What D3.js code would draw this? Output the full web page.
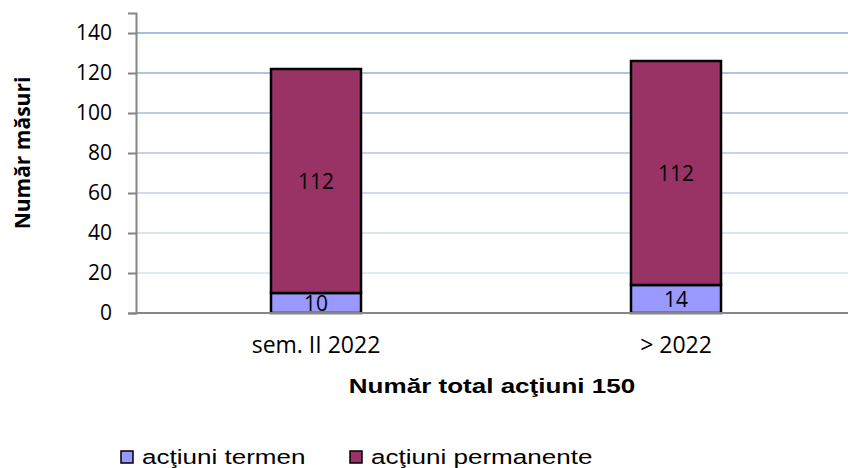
<!DOCTYPE html>
<html>
<head>
<meta charset="utf-8">
<script src="https://cdn.jsdelivr.net/npm/d3@7"></script>
<style>
  body { margin: 0; background: #fff; }
  svg { display: block; }
</style>
</head>
<body>
<div id="chart"></div>
<script>
// data
const categories = ['sem. II 2022', '> 2022'];
const seriesNames = ['acţiuni termen', 'acţiuni permanente'];
const termenValues = [10, 14];
const permanenteValues = [112, 112];
const yTicks = [0, 20, 40, 60, 80, 100, 120, 140];
const xTitle = 'Număr total acţiuni 150';
const yTitle = 'Număr măsuri';

const width = 848, height = 468;
const margin = { top: 13, right: 0, bottom: 155, left: 136 };
const colors = ['#9999ff', '#993366'];
const arialStretch = 1.24; // the Arial texts look wider than normal in the original

const svg = d3.select('#chart').append('svg')
  .attr('width', width)
  .attr('height', height);

const x = d3.scaleBand()
  .domain(categories)
  .range([margin.left, margin.left + 720])
  .paddingInner(0.75)
  .paddingOuter(0.375);

const y = d3.scaleLinear()
  .domain([0, 150])
  .range([height - margin.bottom, margin.top]);

// gridlines fade from top to bottom
const gridColor = d3.scaleLinear().domain([140, 20]).range(['#a7bde5', '#e2e9f6']);
svg.append('g')
  .selectAll('line')
  .data(yTicks.filter(d => d > 0))
  .join('line')
  .attr('x1', margin.left)
  .attr('x2', width)
  .attr('y1', d => y(d))
  .attr('y2', d => y(d))
  .attr('stroke', d => gridColor(d))
  .attr('stroke-width', 2);

// stacked bars
const rows = categories.map((c, i) => ({ cat: c, termen: termenValues[i], permanente: permanenteValues[i] }));
const stack = d3.stack().keys(['termen', 'permanente'])(rows);

const layers = svg.append('g')
  .selectAll('g')
  .data(stack)
  .join('g')
  .attr('fill', (d, i) => colors[i]);

layers.selectAll('rect')
  .data(d => d)
  .join('rect')
  .attr('x', d => x(d.data.cat))
  .attr('y', d => y(d[1]))
  .attr('width', x.bandwidth())
  .attr('height', d => y(d[0]) - y(d[1]))
  .attr('stroke', '#000')
  .attr('stroke-width', 2.5);

// value labels inside segments
layers.selectAll('text')
  .data(d => d)
  .join('text')
  .attr('x', d => x(d.data.cat) + x.bandwidth() / 2)
  .attr('y', d => y((d[0] + d[1]) / 2))
  .attr('dy', '0.36em')
  .attr('text-anchor', 'middle')
  .style('font-family', '"Open Sans", sans-serif')
  .style('font-size', '21px')
  .style('fill', '#000')
  .text(d => d[1] - d[0]);

// y axis
const yAxis = svg.append('g')
  .attr('transform', `translate(${margin.left},0)`)
  .call(d3.axisLeft(y).tickValues(yTicks).tickSize(8).tickPadding(16));
yAxis.select('.domain').attr('stroke', '#868686').attr('stroke-width', 2);
yAxis.selectAll('.tick line').attr('stroke', '#868686').attr('stroke-width', 2);
yAxis.selectAll('.tick text')
  .style('font-family', '"Open Sans", sans-serif')
  .style('font-size', '21px')
  .style('fill', '#000');

// x axis line + category labels
const xAxis = svg.append('g')
  .attr('transform', `translate(0,${y(0)})`)
  .call(d3.axisBottom(x).tickSize(0).tickPadding(24));
xAxis.select('.domain')
  .attr('d', `M${margin.left},0H${width}`)
  .attr('stroke', '#868686')
  .attr('stroke-width', 2);
xAxis.selectAll('.tick text')
  .style('font-family', '"Open Sans", sans-serif')
  .style('font-size', '23px')
  .style('fill', '#000');

// axis titles
svg.append('text')
  .attr('transform', `translate(${(margin.left + width) / 2},393) scale(${arialStretch},1)`)
  .attr('text-anchor', 'middle')
  .style('font-family', '"Liberation Sans", Arial, sans-serif')
  .style('font-weight', 'bold')
  .style('font-size', '21px')
  .text(xTitle);

svg.append('text')
  .attr('transform', 'translate(30,153) rotate(-90)')
  .attr('text-anchor', 'middle')
  .style('font-family', '"Open Sans", sans-serif')
  .style('font-weight', 'bold')
  .style('font-size', '21px')
  .text(yTitle);

// legend
const legendX = [121, 350];
const legend = svg.append('g')
  .selectAll('g')
  .data(seriesNames)
  .join('g')
  .attr('transform', (d, i) => `translate(${legendX[i]},451)`);
legend.append('rect')
  .attr('width', 12)
  .attr('height', 12)
  .attr('fill', (d, i) => colors[i])
  .attr('stroke', '#000')
  .attr('stroke-width', 1.5);
legend.append('text')
  .attr('transform', `translate(21,13) scale(${arialStretch},1)`)
  .style('font-family', '"Liberation Sans", Arial, sans-serif')
  .style('font-size', '21px')
  .text(d => d);
</script>
</body>
</html>
